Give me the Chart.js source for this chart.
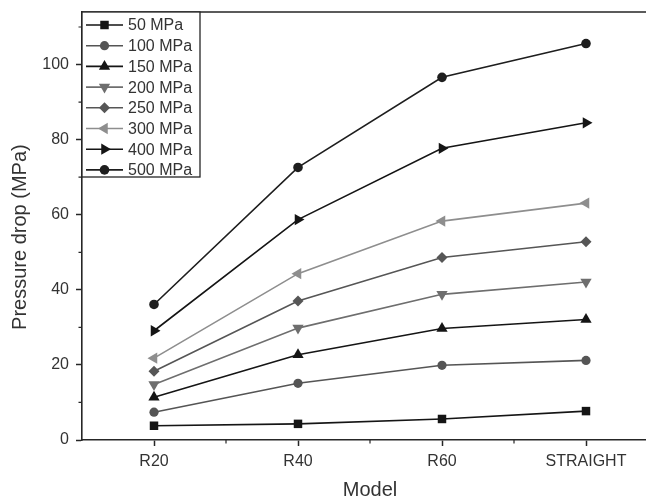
<!DOCTYPE html>
<html>
<head>
<meta charset="utf-8">
<script src="https://cdn.jsdelivr.net/npm/chart.js@4.4.0/dist/chart.umd.min.js"></script>
<style>
  html, body { margin: 0; padding: 0; background: #fff; overflow: hidden; }
  #wrap { width: 670px; height: 502px; }
</style>
</head>
<body>
<div id="wrap"><canvas id="pressure_Chart" width="670" height="502"></canvas></div>
<script>
// categories on the x axis
const models = ['R20', 'R40', 'R60', 'STRAIGHT'];

// pressure drop (MPa) per inlet pressure
const seriesNames = ['50 MPa', '100 MPa', '150 MPa', '200 MPa', '250 MPa', '300 MPa', '400 MPa', '500 MPa'];
const p50  = [3.8, 4.3, 5.6, 7.7];
const p100 = [7.4, 15.1, 19.9, 21.2];
const p150 = [11.4, 22.7, 29.7, 32.1];
const p200 = [14.8, 29.8, 38.8, 42.1];
const p250 = [18.3, 37.0, 48.6, 52.8];
const p300 = [21.8, 44.3, 58.3, 63.1];
const p400 = [29.1, 58.7, 77.7, 84.5];
const p500 = [36.1, 72.6, 96.6, 105.6];

const yTicks = [0, 20, 40, 60, 80, 100];

const seriesValues = [p50, p100, p150, p200, p250, p300, p400, p500];
const colors = ['#151515', '#555555', '#151515', '#6e6e6e', '#565656', '#8e8e8e', '#151515', '#1e1e1e'];
const markers = [
  { style: 'rect', rot: 0, r: 6 },
  { style: 'circle', rot: 0, r: 4.6 },
  { style: 'triangle', rot: 0, r: 6.5 },
  { style: 'triangle', rot: 180, r: 6.5 },
  { style: 'rectRot', rot: 0, r: 5.5 },
  { style: 'triangle', rot: 270, r: 6.5 },
  { style: 'triangle', rot: 90, r: 6.5 },
  { style: 'circle', rot: 0, r: 4.8 }
];

const datasets = seriesNames.map((name, i) => ({
  label: name,
  data: seriesValues[i],
  borderColor: colors[i],
  backgroundColor: colors[i],
  borderWidth: 1.6,
  pointStyle: markers[i].style,
  rotation: markers[i].rot,
  pointRadius: markers[i].r,
  pointBorderWidth: 0,
  tension: 0,
  fill: false
}));

const axisColor = '#262626';
const textColor = '#333333';
const fontFamily = '"Liberation Sans", Arial, sans-serif';

// top frame line, minor ticks and the boxed legend
const framePlugin = {
  id: 'framePlugin',
  afterDraw(chart) {
    const ctx = chart.ctx;
    const area = chart.chartArea;
    const xs = chart.scales.x;
    const ys = chart.scales.y;
    ctx.save();
    ctx.strokeStyle = axisColor;
    ctx.lineWidth = 1.5;
    ctx.beginPath();
    ctx.moveTo(area.left, area.top);
    ctx.lineTo(area.right, area.top);
    ctx.lineTo(area.right, area.bottom);
    ctx.stroke();

    // minor ticks
    ctx.lineWidth = 1.2;
    ctx.beginPath();
    for (let v = 10; v < ys.max; v += 20) {
      const y = ys.getPixelForValue(v);
      ctx.moveTo(area.left, y);
      ctx.lineTo(area.left - 3.5, y);
    }
    for (let i = 0; i < models.length - 1; i++) {
      const x = (xs.getPixelForValue(i) + xs.getPixelForValue(i + 1)) / 2;
      ctx.moveTo(x, area.bottom);
      ctx.lineTo(x, area.bottom + 3.5);
    }
    ctx.stroke();

    // legend box
    const boxL = area.left, boxT = area.top, boxR = 200, rowH = 20.7;
    const boxB = boxT + 165;
    ctx.fillStyle = '#ffffff';
    ctx.fillRect(boxL, boxT, boxR - boxL, boxB - boxT);
    ctx.strokeStyle = axisColor;
    ctx.lineWidth = 1.3;
    ctx.strokeRect(boxL, boxT, boxR - boxL, boxB - boxT);

    ctx.font = '16px ' + fontFamily;
    ctx.textBaseline = 'middle';
    ctx.textAlign = 'left';
    chart.data.datasets.forEach((ds, i) => {
      const y = boxT + 13 + i * rowH;
      ctx.strokeStyle = ds.borderColor;
      ctx.fillStyle = ds.backgroundColor;
      ctx.lineWidth = 1.6;
      ctx.beginPath();
      ctx.moveTo(boxL + 4, y);
      ctx.lineTo(boxL + 41, y);
      ctx.stroke();
      Chart.helpers.drawPoint(ctx, {
        pointStyle: ds.pointStyle,
        rotation: ds.rotation,
        radius: ds.pointRadius,
        borderWidth: 0
      }, boxL + 22.5, y);
      ctx.fillStyle = textColor;
      ctx.fillText(ds.label, boxL + 46, y + 1);
    });
    ctx.restore();
  }
};

// fixed axis sizes, no extra label padding
function fixScale(size) {
  return function (scale) {
    if (scale.isHorizontal()) scale.height = size; else scale.width = size;
    scale.paddingTop = 0;
    scale.paddingBottom = 0;
    scale.paddingLeft = 0;
    scale.paddingRight = 0;
  };
}

const ctx = document.getElementById('pressure_Chart').getContext('2d');

const config = {
  type: 'line',
  data: {
    labels: models,
    datasets: datasets
  },
  options: {
    responsive: false,
    animation: false,
    layout: {
      autoPadding: false,
      padding: { left: 0, top: 12, right: 12, bottom: 0 }
    },
    plugins: {
      legend: { display: false },
      tooltip: { enabled: false }
    },
    scales: {
      x: {
        type: 'category',
        offset: true,
        grid: {
          offset: false,
          drawOnChartArea: false,
          drawTicks: true,
          tickLength: 6,
          tickWidth: 1.5,
          tickColor: axisColor
        },
        border: { color: axisColor, width: 1.6 },
        ticks: {
          color: textColor,
          padding: 6,
          maxRotation: 0,
          font: { family: fontFamily, size: 16 }
        },
        title: {
          display: true,
          text: 'Model',
          color: textColor,
          padding: { top: 0, bottom: 0 },
          font: { family: fontFamily, size: 20 }
        },
        afterFit: fixScale(62)
      },
      y: {
        min: 0,
        max: 114,
        grid: {
          drawOnChartArea: false,
          drawTicks: true,
          tickLength: 6,
          tickWidth: 1.5,
          tickColor: axisColor
        },
        border: { color: axisColor, width: 1.6 },
        afterBuildTicks(scale) {
          scale.ticks = yTicks.map(v => ({ value: v }));
        },
        ticks: {
          color: textColor,
          padding: 7,
          includeBounds: false,
          font: { family: fontFamily, size: 16 }
        },
        title: {
          display: true,
          text: 'Pressure drop (MPa)    ',
          color: textColor,
          padding: { top: 8, bottom: 0 },
          font: { family: fontFamily, size: 20 }
        },
        afterFit: fixScale(82)
      }
    }
  },
  plugins: [framePlugin]
};

const pressureChart = new Chart(ctx, config);
</script>
</body>
</html>
